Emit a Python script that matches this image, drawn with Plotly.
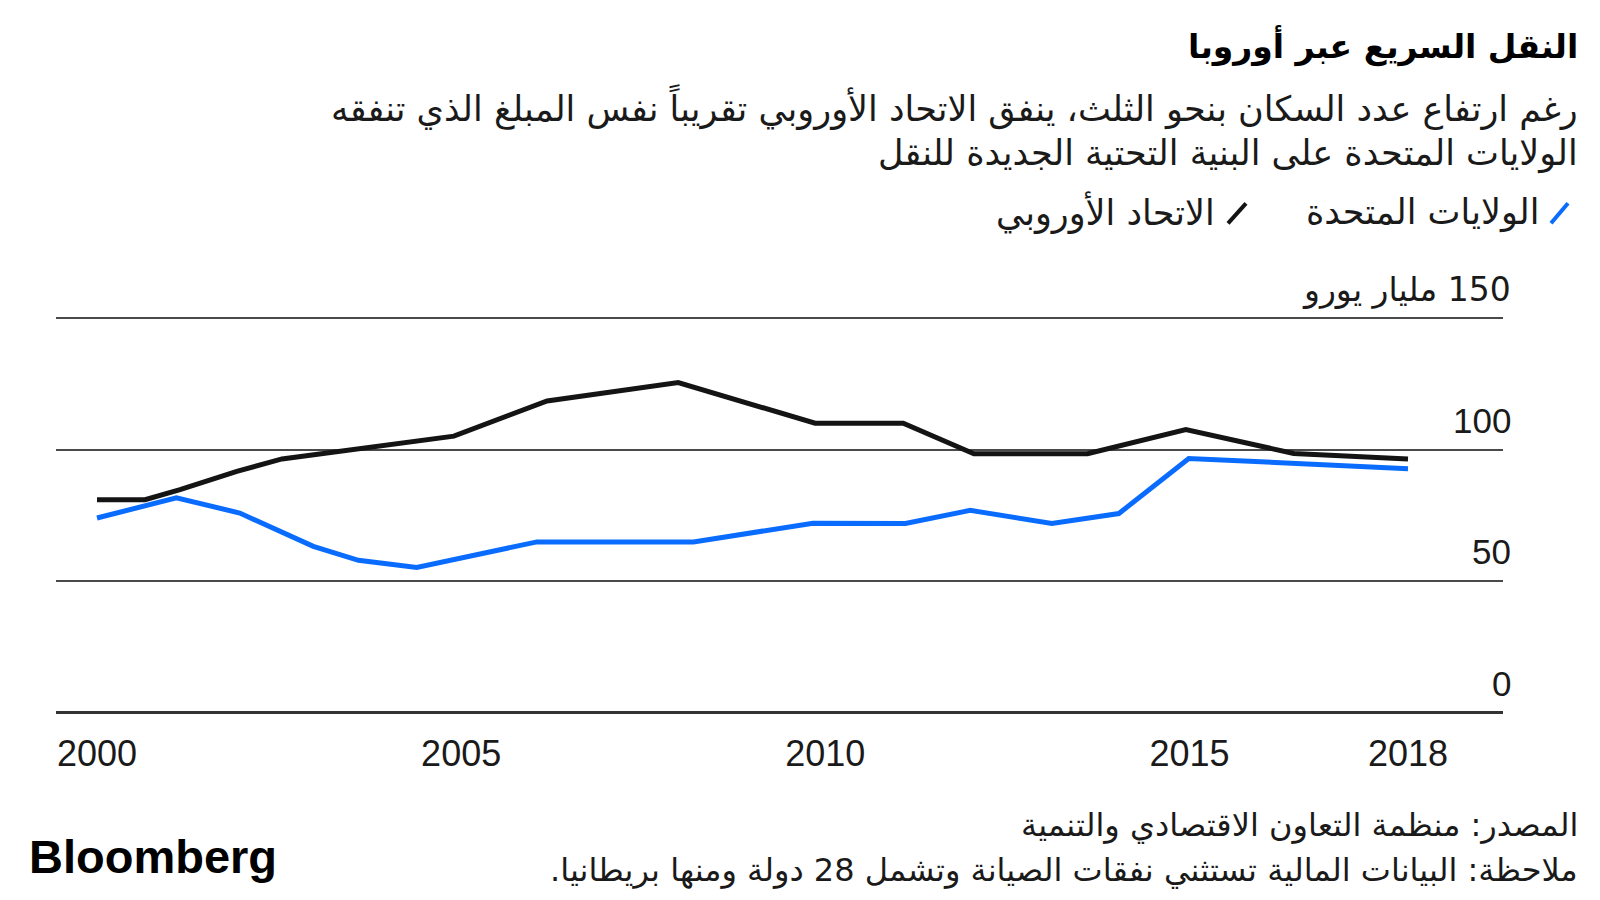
import plotly.graph_objects as go

# ---- data ----
eu_years = [2000.0, 2000.66, 2001.14, 2001.92, 2002.54, 2004.9, 2006.18, 2007.98,
            2009.86, 2011.07, 2012.04, 2013.6, 2014.95, 2016.43, 2018.0]
eu_values = [80.9, 80.9, 84.7, 91.7, 96.4, 105.1, 118.5, 125.5,
             110.0, 110.0, 98.4, 98.4, 107.6, 98.5, 96.4]

us_years = [2000.0, 2001.09, 2001.96, 2002.97, 2003.59, 2004.39, 2006.04, 2008.19,
            2009.83, 2011.1, 2011.99, 2013.11, 2014.03, 2014.99, 2018.0]
us_values = [73.9, 81.6, 75.8, 63.1, 57.8, 55.1, 64.8, 64.8,
             71.9, 71.8, 76.8, 71.8, 75.6, 96.6, 92.7]

x_ticks = [2000, 2005, 2010, 2015, 2018]
y_ticks = [0, 50, 100, 150]
y_tick_labels = ["0", "50", "100", "\u200f150 مليار يورو"]

series_names = ["الولايات المتحدة", "الاتحاد الأوروبي"]
title = "النقل السريع عبر أوروبا"
subtitle_1 = "رغم ارتفاع عدد السكان بنحو الثلث، ينفق الاتحاد الأوروبي تقريباً نفس المبلغ الذي تنفقه"
subtitle_2 = "الولايات المتحدة على البنية التحتية الجديدة للنقل"
source = "المصدر: منظمة التعاون الاقتصادي والتنمية"
note = "ملاحظة: البيانات المالية تستثني نفقات الصيانة وتشمل 28 دولة ومنها بريطانيا.\u200f"

BLUE = "#0a6cff"
BLACK = "#141414"
TXT = "#1a1a1a"
AR = "DejaVu Sans"
LAT = "Liberation Sans"

# page has an 8px body margin; figure sized to fit the window
OFF = 8
W, H = 1600 - OFF, 900 - OFF
# plot area in page coordinates
P_LEFT, P_RIGHT, Y150, Y0 = 56, 1503, 318, 712
YMAX = 152
L = P_LEFT - OFF
R = W - (P_RIGHT - OFF)
B = H - (Y0 - OFF)
PH = (Y0 - Y150) * YMAX / 150
T = H - B - PH
PW = W - L - R


def px(x):  # page x -> paper
    return (x - OFF - L) / PW


def py(y):  # page y -> paper
    return (H - B - (y - OFF)) / PH


fig = go.Figure()
fig.add_trace(go.Scatter(x=us_years, y=us_values, mode="lines", name=series_names[0],
                         line=dict(color=BLUE, width=5), showlegend=False, hoverinfo="skip"))
fig.add_trace(go.Scatter(x=eu_years, y=eu_values, mode="lines", name=series_names[1],
                         line=dict(color=BLACK, width=5), showlegend=False, hoverinfo="skip"))


def text(t, x, y, size, family=AR, anchor="right", color=TXT):
    return dict(text=t, x=px(x), y=py(y), xref="paper", yref="paper",
                xanchor=anchor, yanchor="middle", showarrow=False,
                font=dict(family=family, size=size, color=color))


ann = [
    text("<b>" + title + "</b>", 1580, 46, 33, color="#000"),
    text(subtitle_1, 1580, 107, 35),
    text(subtitle_2, 1580, 153, 35),
    text(series_names[0], 1541, 212, 35),
    text(series_names[1], 1217, 212, 35),
    text(source, 1580, 825, 32),
    text(note, 1580, 870, 32),
    text("<b>Bloomberg</b>", 27, 857, 47, family=LAT, anchor="left", color="#000"),
]
for v, t in zip(y_ticks, y_tick_labels):
    ann.append(dict(text=t, x=px(1513), y=v, xref="paper", yref="y",
                    xanchor="right", yanchor="middle", yshift=29, showarrow=False,
                    font=dict(family=LAT if v != 150 else AR, size=35 if v != 150 else 33,
                              color=TXT)))

shapes = [
    dict(type="line", xref="paper", yref="paper", x0=px(1551), y0=py(223), x1=px(1568), y1=py(203),
         line=dict(color=BLUE, width=4)),
    dict(type="line", xref="paper", yref="paper", x0=px(1228), y0=py(223), x1=px(1246), y1=py(203),
         line=dict(color=BLACK, width=4)),
]

per_year = (1408 - 97) / 18
x0 = 2000 - (97 - P_LEFT) / per_year
x1 = 2018 + (P_RIGHT - 1408) / per_year

fig.update_layout(
    width=W, height=H,
    margin=dict(l=L, r=R, t=T, b=B),
    paper_bgcolor="white", plot_bgcolor="white",
    annotations=ann, shapes=shapes,
    xaxis=dict(range=[x0, x1], tickvals=x_ticks, ticktext=[str(v) for v in x_ticks],
               showgrid=False, zeroline=False, showline=False, ticks="",
               ticklabelstandoff=17,
               tickfont=dict(family=LAT, size=36, color=TXT), fixedrange=True),
    yaxis=dict(range=[0, YMAX], tickvals=y_ticks, showticklabels=False,
               showgrid=True, gridcolor="#4a4a4a", gridwidth=1.5,
               zeroline=True, zerolinecolor="#333333", zerolinewidth=2.5,
               showline=False, ticks="", fixedrange=True),
)

fig.write_html("out.html")
